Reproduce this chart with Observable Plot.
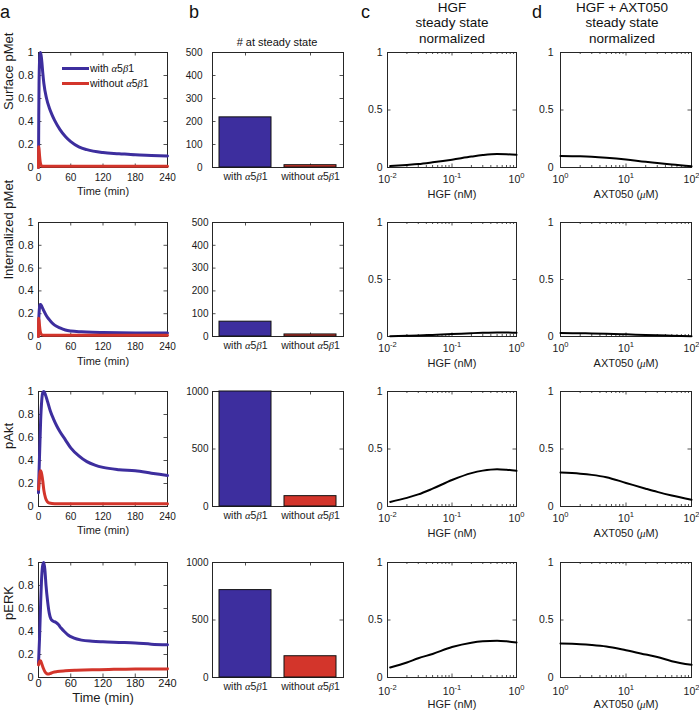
<!DOCTYPE html>
<html><head><meta charset="utf-8">
<script src="https://cdn.jsdelivr.net/npm/d3@7"></script>
<script src="https://cdn.jsdelivr.net/npm/@observablehq/plot@0.6"></script>
<style>
body{margin:0;background:#fff;}
#fig{position:relative;width:699px;height:714px;overflow:hidden;font-family:"Liberation Sans",Arial,Helvetica,sans-serif;color:#111;}
.abs{position:absolute;white-space:nowrap;}
.abs i{font-family:"Liberation Serif",serif;}
</style></head><body><div id="fig"></div>
<script>
// ---------------- data ----------------
const categories = ["with α5β1", "without α5β1"];
const rowNames = ["Surface pMet", "Internalized pMet", "pAkt", "pERK"];
const timeTicks = [0, 60, 120, 180, 240];
const fracTicks = [0, 0.2, 0.4, 0.6, 0.8, 1];
const halfTicks = [0, 0.5, 1];
const countTicks500 = [0, 100, 200, 300, 400, 500];
const countTicks1000 = [0, 500, 1000];
const hgfTicks = [0.01, 0.1, 1];
const hgfMinor = [0.02, 0.03, 0.04, 0.05, 0.06, 0.07, 0.08, 0.09, 0.2, 0.3, 0.4, 0.5, 0.6, 0.7, 0.8, 0.9];
const axtTicks = [1, 10, 100];
const axtMinor = [2, 3, 4, 5, 6, 7, 8, 9, 20, 30, 40, 50, 60, 70, 80, 90];

// time courses (min, normalized)
const surfT_with = [0, 0.5, 1, 2, 3, 4, 6, 8, 10, 15, 20, 25, 30, 40, 50, 60, 75, 90, 120, 150, 180, 210, 240];
const surfV_with = [0, 0.45, 0.72, 0.93, 0.99, 1.0, 0.93, 0.82, 0.73, 0.6, 0.52, 0.46, 0.41, 0.33, 0.27, 0.225, 0.18, 0.155, 0.13, 0.12, 0.11, 0.105, 0.1];
const surfT_without = [0, 0.3, 1, 2, 3, 4, 5, 7, 240];
const surfV_without = [0, 0.18, 0.16, 0.1, 0.055, 0.03, 0.018, 0.01, 0.01];

const intT_with = [0, 0.5, 1, 2, 3, 4, 6, 8, 10, 15, 20, 25, 30, 40, 50, 60, 80, 100, 120, 180, 240];
const intV_with = [0, 0.14, 0.2, 0.26, 0.28, 0.28, 0.265, 0.245, 0.225, 0.18, 0.148, 0.12, 0.1, 0.075, 0.057, 0.048, 0.041, 0.037, 0.035, 0.031, 0.03];
const intT_without = [0, 0.3, 1, 2, 3, 4, 6, 10, 240];
const intV_without = [0, 0.16, 0.14, 0.09, 0.05, 0.03, 0.015, 0.01, 0.01];

const aktT_with = [0, 1, 2, 4, 6, 8, 10, 13, 17, 22, 28, 34, 40, 50, 60, 75, 90, 105, 120, 150, 180, 210, 240];
const aktV_with = [0.12, 0.3, 0.45, 0.75, 0.92, 0.99, 1.0, 0.97, 0.91, 0.83, 0.76, 0.7, 0.65, 0.58, 0.51, 0.44, 0.39, 0.36, 0.34, 0.32, 0.31, 0.29, 0.27];
const aktT_without = [0, 1, 2, 3, 4, 5, 6, 8, 10, 13, 16, 20, 30, 240];
const aktV_without = [0.15, 0.2, 0.26, 0.3, 0.31, 0.3, 0.28, 0.22, 0.14, 0.075, 0.045, 0.03, 0.025, 0.025];

const erkT_with = [0, 2, 4, 6, 8, 10, 12, 14, 17, 20, 23, 27, 32, 37, 42, 48, 55, 65, 80, 100, 120, 150, 180, 210, 240];
const erkV_with = [0.12, 0.35, 0.65, 0.88, 0.98, 1.0, 0.93, 0.8, 0.66, 0.56, 0.51, 0.49, 0.48, 0.46, 0.43, 0.4, 0.37, 0.345, 0.325, 0.315, 0.31, 0.305, 0.3, 0.29, 0.285];
const erkT_without = [0, 2, 4, 6, 9, 12, 15, 18, 22, 27, 35, 50, 70, 100, 140, 180, 240];
const erkV_without = [0.11, 0.14, 0.145, 0.12, 0.08, 0.05, 0.035, 0.03, 0.035, 0.045, 0.052, 0.058, 0.063, 0.068, 0.071, 0.073, 0.075];

// number at steady state [with, without]
const barsSurface = [218, 10];
const barsInternal = [65, 9];
const barsAkt = [1000, 90];
const barsErk = [760, 185];

// HGF dose response (nM)
const hgfDose = [0.011, 0.02, 0.03, 0.05, 0.1, 0.2, 0.3, 0.5, 0.7, 1];
const hgfSurface = [0.012, 0.022, 0.03, 0.045, 0.068, 0.095, 0.108, 0.117, 0.115, 0.11];
const hgfInternal = [0.002, 0.006, 0.009, 0.014, 0.021, 0.029, 0.033, 0.036, 0.035, 0.033];
const hgfAkt = [0.04, 0.075, 0.105, 0.155, 0.23, 0.29, 0.312, 0.325, 0.32, 0.31];
const hgfErk = [0.087, 0.13, 0.167, 0.205, 0.265, 0.303, 0.315, 0.32, 0.315, 0.305];

// HGF + AXT050 dose response (uM)
const axtDose = [1, 2, 3, 5, 10, 20, 30, 50, 100];
const axtSurface = [0.1, 0.097, 0.093, 0.085, 0.07, 0.05, 0.04, 0.026, 0.01];
const axtInternal = [0.03, 0.029, 0.027, 0.024, 0.019, 0.013, 0.01, 0.007, 0.003];
const axtAkt = [0.295, 0.285, 0.275, 0.255, 0.205, 0.155, 0.127, 0.095, 0.058];
const axtErk = [0.295, 0.29, 0.283, 0.27, 0.237, 0.2, 0.178, 0.142, 0.11];

// ---------------- layout & style ----------------
const FONT = '"Liberation Sans", Arial, Helvetica, sans-serif';
const INK = "#1a1a1a";
const AX = "#262626";
const BLUE = "#3d2e9e";
const RED = "#d3352b";
const NS = "http://www.w3.org/2000/svg";

const fig = document.getElementById("fig");
const colX = {a: [38, 167], b: [212, 343], c: [387, 516], d: [560, 691]};
const rowY = [[52, 167], [222, 336], [391, 506], [562, 677]];
const M = {l: 45, r: 12, t: 10, b: 48};

const rows = [
  {name: rowNames[0], tW: surfT_with, vW: surfV_with, tO: surfT_without, vO: surfV_without, bars: barsSurface, bt: countTicks500, hgf: hgfSurface, axt: axtSurface},
  {name: rowNames[1], tW: intT_with, vW: intV_with, tO: intT_without, vO: intV_without, bars: barsInternal, bt: countTicks500, hgf: hgfInternal, axt: axtInternal},
  {name: rowNames[2], tW: aktT_with, vW: aktV_with, tO: aktT_without, vO: aktV_without, bars: barsAkt, bt: countTicks1000, hgf: hgfAkt, axt: axtAkt},
  {name: rowNames[3], tW: erkT_with, vW: erkV_with, tO: erkT_without, vO: erkV_without, bars: barsErk, bt: countTicks1000, hgf: hgfErk, axt: axtErk}
];
// per-row text placement
const rowStyle = [
  {aPad: 6, aFs: 10, aLabDy: 27.5, aLabFs: 11, bYPad: 10, logPad: 8},
  {aPad: 6, aFs: 10, aLabDy: 28, aLabFs: 11, bYPad: 4, logPad: 8},
  {aPad: 6, aFs: 10, aLabDy: 27, aLabFs: 11, bYPad: 4, logPad: 8},
  {aPad: 2, aFs: 11, aLabDy: 24.5, aLabFs: 13, bYPad: 4, logPad: 10}
];

function styleTexts(svg) {
  svg.querySelectorAll("text").forEach(t => {
    if (t.children.length) return;
    const s = t.textContent;
    const m = s.match(/^10\^(-?\d+)$/);
    if (m) {
      t.textContent = "10";
      const sp = document.createElementNS(NS, "tspan");
      sp.setAttribute("dy", "-0.62em");
      sp.setAttribute("font-size", "0.72em");
      sp.textContent = m[1];
      t.appendChild(sp);
      return;
    }
    if (/[αβμ]/.test(s)) {
      t.textContent = "";
      for (const part of s.split(/([αβμ])/)) {
        if (!part) continue;
        if (/^[αβμ]$/.test(part)) {
          const sp = document.createElementNS(NS, "tspan");
          sp.setAttribute("font-style", "italic");
          sp.setAttribute("font-family", '"Liberation Serif", serif');
          sp.textContent = part;
          t.appendChild(sp);
        } else t.appendChild(document.createTextNode(part));
      }
    }
  });
}

function mount(col, r, build) {
  const [x0, x1] = colX[col], [y0, y1] = rowY[r];
  const w = x1 - x0, h = y1 - y0;
  const svg = Plot.plot({
    width: w + M.l + M.r, height: h + M.t + M.b,
    marginLeft: M.l, marginRight: M.r, marginTop: M.t, marginBottom: M.b,
    style: {fontFamily: FONT, fontSize: "10px", color: INK, background: "transparent", overflow: "visible"},
    ...build(w, h)
  });
  svg.style.position = "absolute";
  svg.style.left = (x0 - M.l) + "px";
  svg.style.top = (y0 - M.t) + "px";
  svg.style.maxWidth = "none";
  styleTexts(svg);
  fig.appendChild(svg);
}

function box(w, h, xt, yt, minor) {
  const s = {stroke: AX, strokeWidth: 0.8};
  const L = 3.5;
  const marks = [
    Plot.frame({stroke: AX, strokeWidth: 1}),
    Plot.ruleX(xt, {x: d => d, insetTop: h - L, ...s}),
    Plot.ruleX(xt, {x: d => d, insetBottom: h - L, ...s}),
    Plot.ruleY(yt, {y: d => d, insetRight: w - L, ...s}),
    Plot.ruleY(yt, {y: d => d, insetLeft: w - L, ...s})
  ];
  if (minor) marks.push(
    Plot.ruleX(minor, {x: d => d, insetTop: h - 2, ...s}),
    Plot.ruleX(minor, {x: d => d, insetBottom: h - 2, ...s})
  );
  return marks;
}

const pairs = (ts, vs) => ts.map((t, i) => ({t, v: vs[i]}));
const label = (txt, opts) => Plot.text([txt], {x: null, y: null, text: d => d, fill: INK, ...opts});
const logFmt = d => "10^" + Math.round(Math.log10(d));

rows.forEach((R, r) => {
  const S = rowStyle[r];
  // column a: time courses
  mount("a", r, (w, h) => ({
    x: {domain: [0, 240]}, y: {domain: [0, 1]},
    marks: [
      ...box(w, h, timeTicks, fracTicks),
      Plot.line(pairs(R.tW, R.vW), {x: "t", y: "v", stroke: BLUE, strokeWidth: 3, curve: "monotone-x"}),
      Plot.line(pairs(R.tO, R.vO), {x: "t", y: "v", stroke: RED, strokeWidth: 3, curve: "monotone-x"}),
      Plot.axisX({ticks: timeTicks, tickSize: 0, tickPadding: S.aPad, fontSize: S.aFs, tickFormat: d => String(d), label: null}),
      Plot.axisY({ticks: fracTicks, tickSize: 0, tickPadding: 5, fontSize: 11, tickFormat: d => String(d), label: null}),
      label("Time (min)", {frameAnchor: "bottom", dy: S.aLabDy, fontSize: S.aLabFs}),
      label(R.name, {frameAnchor: "left", rotate: -90, dx: -30, fontSize: 13})
    ]
  }));
  // column b: steady-state bars
  mount("b", r, (w, h) => ({
    x: {type: "band", domain: categories, paddingInner: 0.2, paddingOuter: 0.1},
    y: {domain: [0, R.bt[R.bt.length - 1]]},
    color: {domain: categories, range: [BLUE, RED]},
    marks: [
      ...box(w, h, categories, R.bt),
      Plot.barY(categories.map((c, i) => ({cat: c, value: R.bars[i]})), {x: "cat", y: "value", fill: "cat", stroke: "#111", strokeWidth: 1}),
      Plot.axisX({tickSize: 0, tickPadding: 5, fontSize: 10.5, label: null}),
      Plot.axisY({ticks: R.bt, tickSize: 0, tickPadding: S.bYPad, fontSize: 10, tickFormat: d => String(d), label: null})
    ]
  }));
  // column c: HGF dose response
  mount("c", r, (w, h) => ({
    x: {type: "log", domain: [0.01, 1]}, y: {domain: [0, 1]},
    marks: [
      ...box(w, h, hgfTicks, halfTicks, hgfMinor),
      Plot.line(pairs(hgfDose, R.hgf), {x: "t", y: "v", stroke: "#000", strokeWidth: 2, curve: "monotone-x"}),
      Plot.axisX({ticks: hgfTicks, tickSize: 0, tickPadding: S.logPad, fontSize: 10.5, tickFormat: logFmt, label: null}),
      Plot.axisY({ticks: halfTicks, tickSize: 0, tickPadding: 5, fontSize: 10.5, tickFormat: d => String(d), label: null}),
      label("HGF (nM)", {frameAnchor: "bottom", dy: 30, fontSize: 11})
    ]
  }));
  // column d: HGF + AXT050 dose response
  mount("d", r, (w, h) => ({
    x: {type: "log", domain: [1, 100]}, y: {domain: [0, 1]},
    marks: [
      ...box(w, h, axtTicks, halfTicks, axtMinor),
      Plot.line(pairs(axtDose, R.axt), {x: "t", y: "v", stroke: "#000", strokeWidth: 2, curve: "monotone-x"}),
      Plot.axisX({ticks: axtTicks, tickSize: 0, tickPadding: S.logPad, fontSize: 10.5, tickFormat: logFmt, label: null}),
      Plot.axisY({ticks: halfTicks, tickSize: 0, tickPadding: 7, fontSize: 10.5, tickFormat: d => String(d), label: null}),
      label("AXT050 (μM)", {frameAnchor: "bottom", dy: 30, fontSize: 11})
    ]
  }));
});

// ---------------- HTML text: panel letters, titles, legend ----------------
function htmlText(content, x, baseline, size, center, isHTML) {
  const d = document.createElement("div");
  d.className = "abs";
  d.style.fontSize = size + "px";
  d.style.lineHeight = size + "px";
  d.style.top = (baseline - 0.8465 * size) + "px";
  d.style.left = x + "px";
  if (center) d.style.transform = "translateX(-50%)";
  if (isHTML) d.innerHTML = content; else d.textContent = content;
  fig.appendChild(d);
  return d;
}
htmlText("a", 0, 18.3, 18);
htmlText("b", 189, 18.3, 18);
htmlText("c", 361, 18.3, 18);
htmlText("d", 532, 18.3, 18);
htmlText("# at steady state", 277, 46, 11, true);
const titleC = ["HGF", "steady state", "normalized"];
const titleD = ["HGF + AXT050", "steady state", "normalized"];
titleC.forEach((s, i) => htmlText(s, 452, 12 + 15.5 * i, 13.5, true));
titleD.forEach((s, i) => htmlText(s, 622, 12 + 15.5 * i, 13.5, true));

// legend in panel a (row 1)
const legendColors = [BLUE, RED];
const legendHTML = categories.map(c => c.replace(/([αβ])/g, "<i>$1</i>"));
[68.3, 83.3].forEach((y, i) => {
  const ln = document.createElement("div");
  ln.className = "abs";
  ln.style.cssText += `left:62px;top:${y - 1.5}px;width:27px;height:3px;background:${legendColors[i]};`;
  fig.appendChild(ln);
  htmlText(legendHTML[i], 90, y + 3.7, 10.5, false, true);
});
</script></body></html>
